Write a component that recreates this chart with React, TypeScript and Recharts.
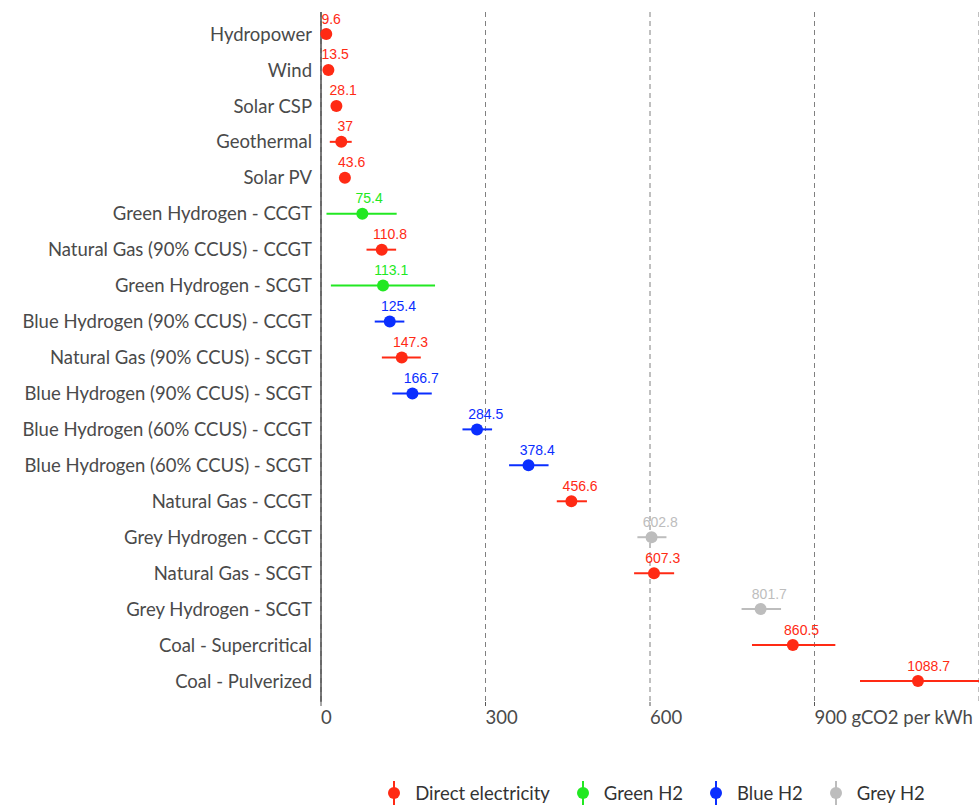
import React from "react";
import { ComposedChart, Line, XAxis, YAxis, CartesianGrid, ErrorBar } from "recharts";

const categories = [
  "Hydropower", "Wind", "Solar CSP", "Geothermal", "Solar PV",
  "Green Hydrogen - CCGT", "Natural Gas (90% CCUS) - CCGT", "Green Hydrogen - SCGT",
  "Blue Hydrogen (90% CCUS) - CCGT", "Natural Gas (90% CCUS) - SCGT",
  "Blue Hydrogen (90% CCUS) - SCGT", "Blue Hydrogen (60% CCUS) - CCGT",
  "Blue Hydrogen (60% CCUS) - SCGT", "Natural Gas - CCGT", "Grey Hydrogen - CCGT",
  "Natural Gas - SCGT", "Grey Hydrogen - SCGT", "Coal - Supercritical", "Coal - Pulverized",
];
const groupOf = [
  "red", "red", "red", "red", "red",
  "green", "red", "green", "blue", "red",
  "blue", "blue", "blue", "red", "grey",
  "red", "grey", "red", "red",
];
const values = [9.6, 13.5, 28.1, 37, 43.6, 75.4, 110.8, 113.1, 125.4, 147.3, 166.7, 284.5, 378.4, 456.6, 602.8, 607.3, 801.7, 860.5, 1088.7];
const lows = [9.6, 13.5, 28.1, 16, 43.6, 10, 83, 18, 98, 111, 130, 258, 343, 430, 577, 571, 767, 786, 983];
const highs = [9.6, 13.5, 28.1, 56, 43.6, 138, 137, 208, 152, 182, 202, 312, 415, 485, 630, 644, 839, 938, 1200];

const seriesKeys = ["red", "green", "blue", "grey"];
const seriesNames = ["Direct electricity", "Green H2", "Blue H2", "Grey H2"];
const seriesColors = ["#FF2A14", "#22E822", "#0A2EFF", "#BDBDBD"];

const xTicks = [0, 300, 600, 900];
const xTickLabels = ["0", "300", "600", "900 gCO2 per kWh"];

const rows = categories.map((name, i) => {
  const g = groupOf[i];
  const r: any = { name };
  r[g] = values[i];
  r[g + "Err"] = [values[i] - lows[i], highs[i] - values[i]];
  return r;
});

const AXIS_FONT = "Lato, 'Open Sans', sans-serif";
const LABEL_FONT = "'Liberation Sans', Arial, sans-serif";
const AXIS_SIZE = 18.5;

function textWidth(s: string) {
  let w = 0;
  for (const c of s) w += c === "." ? 3.89 : 7.79;
  return w;
}

function makeDot(color: string) {
  return (props: any) => {
    const { cx, cy, value, key } = props;
    if (value == null || cx == null || cy == null || isNaN(cx)) return <g key={key} />;
    const s = String(value);
    const w = textWidth(s);
    return (
      <g key={key}>
        <circle cx={cx} cy={cy} r={6} fill={color} />
        <text x={cx - 0.25 * w} y={cy - 10.5} fill={color} fontSize={14} fontFamily={LABEL_FONT} textAnchor="start">
          {s}
        </text>
      </g>
    );
  };
}

const YTick = (props: any) => {
  const { x, y, payload } = props;
  return (
    <text x={x} y={y} dy="0.36em" textAnchor="end" fontSize={AXIS_SIZE} fontFamily={AXIS_FONT} fill="#4a4a4a">
      {payload.value}
    </text>
  );
};

const XTick = (props: any) => {
  const { x, y, payload } = props;
  const idx = xTicks.indexOf(payload.value);
  return (
    <text x={x} y={y} dy="0.71em" textAnchor="start" fontSize={AXIS_SIZE} fontFamily={AXIS_FONT} fill="#4a4a4a">
      {idx >= 0 ? xTickLabels[idx] : payload.value}
    </text>
  );
};

export default function App() {
  return (
    <div style={{ position: "absolute", left: 0, top: 0, width: 979, height: 808, background: "#fff" }}>
      <ComposedChart
        width={979}
        height={808}
        data={rows}
        layout="vertical"
        margin={{ top: 12, right: 0, bottom: 76, left: 0 }}
      >
        <CartesianGrid horizontal={false} stroke="#808080" strokeDasharray="5 4" strokeWidth={1} />
        <XAxis
          type="number"
          domain={[0, 1200]}
          ticks={xTicks}
          height={30}
          axisLine={false}
          tickLine={{ stroke: "#555" }}
          tickSize={4}
          tickMargin={5}
          tick={<XTick />}
          interval={0}
        />
        <YAxis
          type="category"
          dataKey="name"
          width={321}
          axisLine={{ stroke: "#4d4d4d", strokeWidth: 1.5 }}
          tickLine={false}
          tickSize={0}
          tickMargin={9}
          tick={<YTick />}
          interval={0}
          padding={{ top: 22, bottom: 21 }}
        />
        {seriesKeys.map((k, i) => (
          <Line
            key={k}
            dataKey={k}
            name={seriesNames[i]}
            stroke="none"
            isAnimationActive={false}
            activeDot={false}
            dot={makeDot(seriesColors[i])}
            connectNulls={false}
          >
            <ErrorBar dataKey={k + "Err"} direction="x" width={0} stroke={seriesColors[i]} strokeWidth={2} />
          </Line>
        ))}
      </ComposedChart>
      <div
        style={{
          position: "absolute",
          left: 327,
          width: 658,
          top: 781,
          height: 24,
          display: "flex",
          justifyContent: "center",
          alignItems: "center",
          fontFamily: AXIS_FONT,
          fontSize: AXIS_SIZE,
          color: "#333",
        }}
      >
        {seriesNames.map((n, i) => (
          <div key={n} style={{ display: "flex", alignItems: "center", marginRight: i < 3 ? 26 : 0 }}>
            <svg width={14} height={24} style={{ marginRight: 14 }}>
              <line x1={7} y1={0} x2={7} y2={24} stroke={seriesColors[i]} strokeWidth={2} />
              <circle cx={7} cy={12} r={6} fill={seriesColors[i]} />
            </svg>
            <span>{n}</span>
          </div>
        ))}
      </div>
    </div>
  );
}
